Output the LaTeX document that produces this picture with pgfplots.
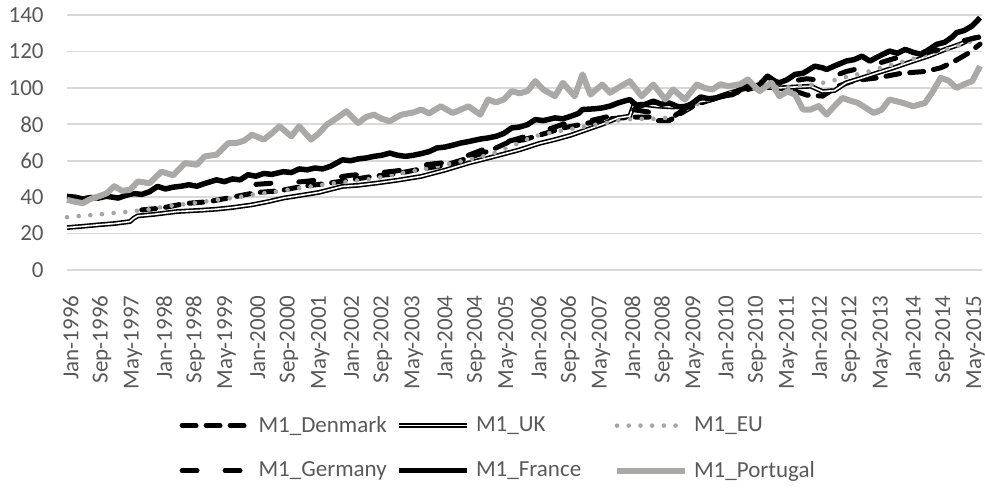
\documentclass[border=0pt]{standalone}
\usepackage{fontspec}
\setmainfont{Carlito}
\usepackage{pgfplots}
\pgfplotsset{compat=1.18}
\definecolor{textgray}{HTML}{595959}
\definecolor{gridgray}{HTML}{D9D9D9}
\definecolor{portgray}{HTML}{ABA8A8}
\definecolor{eugray}{HTML}{A6A6A6}
\begin{document}
\begin{tikzpicture}[font=\fontsize{11.5}{13.8}\selectfont]
\begin{axis}[
  at={(0,0)}, anchor=south west,
  scale only axis, width=457.5pt, height=127.5pt,
  xmin=0, xmax=232.5, ymin=0, ymax=140,
  clip=false,
  axis line style={draw=none},
  major tick length=0pt,
  ytick={0,20,...,140},
  ymajorgrids, grid style={color=gridgray, line width=0.8pt},
  /pgf/number format/assume math mode=true,
  tick label style={text=textgray},
  yticklabel style={anchor=east, inner sep=0pt, xshift=-11.5pt},
  xtick={0.4,8.33,...,231},
  xticklabels={Jan-1996,Sep-1996,May-1997,Jan-1998,Sep-1998,May-1999,Jan-2000,Sep-2000,May-2001,Jan-2002,Sep-2002,May-2003,Jan-2004,Sep-2004,May-2005,Jan-2006,Sep-2006,May-2007,Jan-2008,Sep-2008,May-2009,Jan-2010,Sep-2010,May-2011,Jan-2012,Sep-2012,May-2013,Jan-2014,Sep-2014,May-2015},
  xticklabel style={rotate=90, anchor=east, inner sep=0pt, xshift=-12.5pt, yshift=-1pt},
  legend columns=3,
  legend cell align=left,
  legend image code/.code={\draw[#1] (0pt,0pt) -- (34pt,0pt);},
  legend style={draw=none, fill=none, inner sep=0pt, outer sep=0pt,
    at={(axis description cs:0.123,-0.573)}, anchor=north west,
    text=textgray, nodes={inner sep=0pt},
    row sep=13pt,
    /tikz/every odd column/.append style={column sep=3pt}},
]
% Denmark
\addplot[black, line width=2.5pt, dash pattern=on 7pt off 5pt, line cap=round] coordinates {
(19,33) (24,34) (30,36.5) (36,37.5) (42,40) (48,42.5) (54,43.5) (60,46) (66,47.5) (72,49.5) (78,51.5) (84,53) (90,55.5) (96,57.5) (102,61.5) (108,66) (112,70) (116,71.5) (120,74) (126,78) (132,80.5) (138,83) (144,84) (148,84) (150,82) (153,82) (156,86) (160,91) (166,95) (172,98.5) (176,101) (180,100) (184,99) (188,96) (192,95.5) (196,101) (200,104) (206,105.5) (212,108) (218,109) (222,111) (225,114) (229,119) (232,124)
};
\addlegendentry{\makebox[69pt][l]{M1\_Denmark}}
% UK
\addplot[black, line width=0.8pt, double=white, double distance=0.8pt] coordinates {
(0,23.3) (4,24) (8,24.8) (12,25.5) (16,26.6) (17,28.5) (18,29.7) (22,30.5) (28,32.1) (34,32.8) (38,33.4) (42,34.3) (47,35.8) (51,37.5) (55,39.5) (60,41.2) (64,42.6) (70,45.9) (74,46.5) (79,47.8) (84,49.3) (90,51.4) (96,54.8) (102,58.7) (108,62) (115,66) (120,69.5) (124,71.6) (128,74) (132,77) (136,80) (140,83.5) (143,84.5) (144,90.5) (146,91) (150,90) (154,89.5) (157,90) (160,92) (164,93.6) (168,97) (173,100) (177,100.3) (181,100) (185,100.5) (189,100.9) (192,98) (195,98.5) (198,102.8) (202,105.5) (206,108.3) (210,111) (215,114.7) (219,117.5) (223,121) (227,124) (230,127.2) (232,128)
};
\addlegendentry{\makebox[69pt][l]{M1\_UK}}
% EU
\addplot[eugray, line width=2.3pt, dash pattern=on 0pt off 5.85pt, line cap=round] coordinates {
(0,29) (8,30.5) (15,31.9) (20,33) (25,34.9) (32,36.7) (38,38.5) (42,39.5) (47,41.3) (53,43) (59,45) (64,46.5) (68,47.7) (73,49) (78,50.1) (82,52) (87,54) (94,56.8) (100,59.6) (105,62) (109,64.6) (113,68) (118,73) (122,75) (127,77) (132,79) (137,80.7) (141,82.5) (145,83) (149,83) (152,83.5) (155,86) (160,91) (165,95) (170,98) (174,100) (178,100.5) (182,100) (186,101) (190,102) (194,103.5) (197,105.5) (202,108) (206,110.5) (210,113) (215,116) (220,119) (225,122) (229,125) (232,127)
};
\addlegendentry{M1\_EU}
% Germany
\addplot[black, line width=2.5pt, dash pattern=on 7.5pt off 14pt, line cap=round] coordinates {
(48,47) (54,48) (60,48.5) (66,50) (72,52) (78,53) (84,54.5) (90,57.5) (96,59) (102,63) (108,68) (112,70.5) (116,73) (120,75.5) (126,80) (132,81.5) (138,84.5) (144,88) (150,86) (154,84) (158,90) (164,94) (170,97) (176,100) (182,103) (188,105) (192,104) (198,109) (204,112) (210,116) (216,119) (222,121) (228,126) (232,128)
};
\addlegendentry{\makebox[69pt][l]{M1\_Germany}}
% France
\addplot[black, line width=2.75pt, line join=round] coordinates {
(0,40.4) (2,40) (4,39) (6,39.8) (8,39.5) (10,40.5) (13,39.5) (15,41) (17,42) (19,41.5) (21,43) (23,45.9) (25,44.5) (27,45.5) (29,46) (31,46.8) (33,46) (35,47.5) (38,49.5) (40,48.5) (42,50) (44,49.5) (46,52.3) (48,51.5) (50,53) (52,52.5) (55,54) (57,53.5) (59,55.5) (61,55) (63,56) (65,55.5) (67,57) (70,60.5) (72,60) (74,61) (76,61.5) (78,62.4) (80,63) (82,64.2) (84,63) (86,62.4) (88,63) (90,63.9) (92,65) (94,67) (96,67.5) (98,68.5) (100,69.7) (102,70.5) (105,71.9) (107,72.5) (109,73.4) (111,75) (113,78) (115,78.5) (117,79.8) (119,82.6) (121,82) (124,83.5) (126,83) (128,84.4) (130,86) (131,88.1) (134,88.5) (136,89) (138,90) (140,91.7) (143,93.6) (145,89.9) (147,91) (149,92.7) (151,91) (153,91.7) (155,89.9) (157,89) (159,91.7) (161,95) (163,94) (165,94.5) (167,96) (169,96.3) (171,99) (173,100.9) (175,101) (176,101.8) (178,106.4) (180,103.5) (181,102.8) (183,104.5) (185,107.4) (187,108) (190,111.9) (192,111) (193,110.1) (195,112) (198,114.7) (200,115.5) (202,117.4) (204,114.7) (206,117) (209,120.2) (211,119) (213,121.1) (215,119.5) (217,118.4) (219,121) (221,123.9) (223,125) (225,128) (226,130.3) (228,131.5) (230,134) (232,138.5)
};
\addlegendentry{\makebox[69pt][l]{M1\_France}}
% Portugal
\addplot[portgray, line width=3pt, line join=round] coordinates {
(0,38.5) (2,37.5) (4,36.7) (6,39) (8,40.4) (10,42) (12,46) (14,43.5) (16,44) (18,48.6) (21,47.7) (24,54) (27,52) (30,58.7) (33,57.8) (35,62.4) (38,63.3) (41,69.7) (43,69.7) (45,71) (47,74.3) (50,71.6) (52,75) (54,78.9) (57,73.4) (59,78.9) (62,71.6) (64,75) (66,79.8) (68,82.6) (71,87.2) (74,80.7) (76,84) (78,85.3) (80,83) (82,81.7) (85,85.3) (88,86.5) (90,88.1) (92,86) (95,89.9) (98,86.2) (100,88) (102,89.9) (105,85.3) (107,93.6) (109,92) (111,93.6) (113,98.2) (115,97) (117,98.2) (119,103.7) (121,99.1) (124,95.4) (126,102.8) (129,95.4) (131,107.4) (133,96.3) (136,101.8) (138,97.3) (140,100) (143,103.7) (146,95.4) (149,101.8) (152,93.6) (154,99.1) (157,93.6) (160,101.8) (162,100) (164,99.1) (166,102) (168,100.9) (171,102) (173,104.6) (176,98.2) (179,102.8) (181,95.4) (183,98) (185,96.3) (187,88.1) (189,88.1) (191,90) (193,85.3) (195,90) (197,94.5) (199,93) (201,91.7) (203,89) (205,86.2) (207,88) (209,93.6) (212,92) (215,89.9) (218,91.7) (220,98) (222,105.5) (224,104) (226,100) (228,102) (230,103.7) (232,111.9)
};
\addlegendentry{M1\_Portugal}
\end{axis}
\pgfresetboundingbox
\path[use as bounding box] (-33.5pt,-109pt) rectangle (459pt,135pt);
\end{tikzpicture}
\end{document}
